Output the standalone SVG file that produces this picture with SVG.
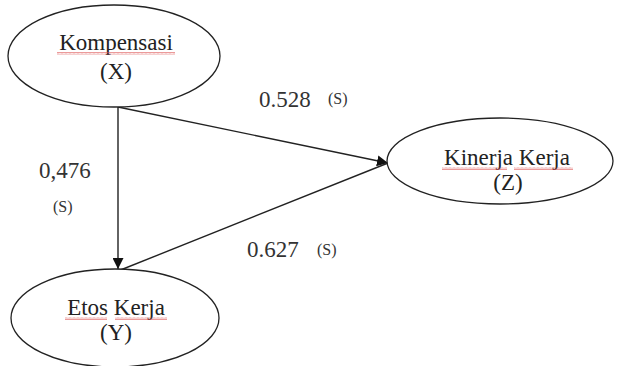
<svg xmlns="http://www.w3.org/2000/svg" width="619" height="366" viewBox="0 0 619 366">
<defs>
<style>
.node{fill:#fff;stroke:#222;stroke-width:1.3}
.t{font-family:"Liberation Serif","Times New Roman",serif;font-size:23px;fill:#222;text-anchor:middle}
.n{font-family:"Liberation Serif","Times New Roman",serif;font-size:23px;fill:#333}
.s{font-family:"Liberation Serif","Times New Roman",serif;font-size:16px;fill:#333}
.edge{stroke:#222;stroke-width:1.4;fill:none}
</style>
<marker id="ah" viewBox="0 0 10 10" refX="10" refY="5" markerWidth="11" markerHeight="11" markerUnits="userSpaceOnUse" orient="auto">
<path d="M0,0 L10,5 L0,10 z" fill="#111"/>
</marker>
<pattern id="wave" width="4" height="3" patternUnits="userSpaceOnUse">
<path d="M0,2.5 L1,0.5 L2,2.5 L3,0.5 L4,2.5" fill="none" stroke="#d55" stroke-width="0.6"/>
</pattern>
</defs>
<rect width="619" height="366" fill="#fff"/>
<g id="connectors">
<line class="edge" x1="118" y1="107" x2="118" y2="269" marker-end="url(#ah)"/>
<line class="edge" x1="118" y1="107" x2="388" y2="163" marker-end="url(#ah)"/>
<line class="edge" x1="118" y1="271" x2="388" y2="163"/>
</g>
<g id="kompensasi">
<ellipse class="node" cx="114" cy="56" rx="106" ry="51"/>
<text class="t" x="116" y="50">Kompensasi</text>
<rect x="57" y="52" width="118" height="3" fill="url(#wave)"/>
<text class="t" x="116" y="79">(X)</text>
</g>
<g id="kinerja">
<ellipse class="node" cx="500" cy="161" rx="113" ry="43"/>
<text class="t" x="507" y="165">Kinerja Kerja</text>
<rect x="442" y="167" width="65" height="3" fill="url(#wave)"/>
<rect x="514" y="167" width="59" height="3" fill="url(#wave)"/>
<text class="t" x="508" y="190">(Z)</text>
</g>
<g id="etos">
<ellipse class="node" cx="115" cy="318" rx="104" ry="49"/>
<text class="t" x="116" y="315">Etos Kerja</text>
<rect x="65" y="317" width="42" height="3" fill="url(#wave)"/>
<rect x="115" y="317" width="52" height="3" fill="url(#wave)"/>
<text class="t" x="116" y="340">(Y)</text>
</g>
<g id="labels">
<text class="n" x="259" y="107">0.528</text>
<text class="s" x="328" y="104">(S)</text>
<text class="n" x="39" y="178">0,476</text>
<text class="s" x="53" y="212">(S)</text>
<text class="n" x="247" y="257">0.627</text>
<text class="s" x="317" y="255">(S)</text>
</g>
</svg>
